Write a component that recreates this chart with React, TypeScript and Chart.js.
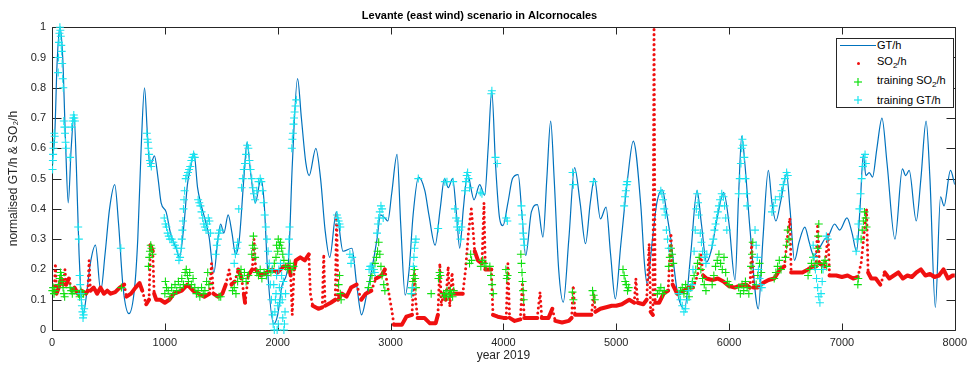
import React, { useEffect, useRef } from 'react';
import { Chart, registerables } from 'chart.js';

Chart.register(...registerables);

// ---------- data ----------
const gtHours = [0, 25, 45, 70, 95, 120, 144, 170, 195, 215, 240, 276, 300, 340, 385, 432, 470, 510, 556, 590, 630, 682, 732, 760, 790, 820, 845, 868, 908, 940, 967, 1011, 1050, 1100, 1130, 1170, 1200, 1230, 1258, 1290, 1317, 1360, 1391, 1435, 1470, 1494, 1523, 1561, 1595, 1626, 1660, 1700, 1729, 1760, 1802, 1852, 1880, 1910, 1964, 2000, 2040, 2094, 2130, 2176, 2210, 2250, 2279, 2338, 2380, 2420, 2461, 2520, 2579, 2658, 2700, 2743, 2790, 2834, 2880, 2911, 2950, 2976, 3010, 3058, 3090, 3130, 3165, 3200, 3248, 3304, 3340, 3395, 3440, 3478, 3512, 3550, 3585, 3613, 3645, 3682, 3740, 3790, 3834, 3865, 3897, 3930, 3966, 3996, 4040, 4081, 4131, 4165, 4198, 4248, 4301, 4351, 4385, 4419, 4450, 4490, 4531, 4580, 4631, 4680, 4728, 4770, 4807, 4860, 4910, 4950, 4992, 5040, 5101, 5151, 5218, 5250, 5274, 5321, 5360, 5408, 5450, 5483, 5542, 5605, 5660, 5716, 5755, 5800, 5840, 5900, 5952, 6000, 6053, 6085, 6112, 6140, 6186, 6259, 6300, 6348, 6380, 6415, 6460, 6509, 6540, 6580, 6620, 6671, 6710, 6750, 6800, 6847, 6880, 6935, 6980, 7045, 7090, 7130, 7160, 7190, 7212, 7242, 7271, 7310, 7355, 7400, 7470, 7536, 7565, 7596, 7659, 7700, 7746, 7780, 7828, 7874, 7905, 7962, 8000];
const gtValues = [0.55, 0.65, 0.88, 1.0, 0.9, 0.62, 0.42, 0.6, 0.71, 0.55, 0.25, 0.05, 0.1, 0.22, 0.28, 0.13, 0.25, 0.4, 0.48, 0.35, 0.14, 0.054, 0.14, 0.3, 0.6, 0.8, 0.65, 0.54, 0.575, 0.5, 0.42, 0.39, 0.32, 0.27, 0.24, 0.35, 0.48, 0.54, 0.585, 0.47, 0.42, 0.36, 0.31, 0.19, 0.3, 0.35, 0.32, 0.38, 0.32, 0.25, 0.3, 0.5, 0.62, 0.52, 0.42, 0.5, 0.42, 0.2, 0.02, 0.05, 0.15, 0.22, 0.55, 0.83, 0.7, 0.55, 0.51, 0.6, 0.5, 0.33, 0.24, 0.39, 0.26, 0.27, 0.15, 0.05, 0.12, 0.2, 0.3, 0.38, 0.37, 0.36, 0.45, 0.58, 0.35, 0.115, 0.2, 0.38, 0.505, 0.46, 0.38, 0.28, 0.4, 0.5, 0.47, 0.5, 0.38, 0.27, 0.4, 0.515, 0.43, 0.48, 0.445, 0.6, 0.79, 0.55, 0.37, 0.345, 0.42, 0.5, 0.513, 0.38, 0.246, 0.39, 0.414, 0.307, 0.5, 0.69, 0.5, 0.2, 0.092, 0.3, 0.536, 0.42, 0.285, 0.42, 0.5, 0.367, 0.406, 0.25, 0.103, 0.28, 0.5, 0.624, 0.41, 0.22, 0.152, 0.3, 0.42, 0.463, 0.38, 0.3, 0.125, 0.07, 0.25, 0.46, 0.35, 0.224, 0.26, 0.38, 0.455, 0.35, 0.165, 0.45, 0.64, 0.55, 0.33, 0.07, 0.3, 0.527, 0.42, 0.36, 0.43, 0.516, 0.4, 0.23, 0.29, 0.34, 0.29, 0.246, 0.27, 0.3, 0.31, 0.35, 0.33, 0.37, 0.32, 0.26, 0.4, 0.58, 0.51, 0.52, 0.505, 0.6, 0.7, 0.55, 0.3, 0.532, 0.51, 0.527, 0.36, 0.5, 0.69, 0.5, 0.075, 0.44, 0.41, 0.527, 0.48];

const so2Hours = [0, 20, 30, 40, 60, 80, 100, 115, 125, 150, 175, 200, 230, 260, 300, 318, 329, 340, 370, 400, 430, 460, 490, 520, 560, 600, 640, 660, 700, 740, 776, 800, 835, 860, 872, 893, 905, 924, 960, 1000, 1040, 1080, 1150, 1200, 1250, 1300, 1350, 1395, 1414, 1430, 1470, 1510, 1540, 1570, 1590, 1620, 1650, 1680, 1700, 1711, 1740, 1775, 1790, 1805, 1850, 1900, 1950, 2000, 2050, 2100, 2115, 2129, 2145, 2160, 2200, 2240, 2276, 2290, 2310, 2360, 2395, 2408, 2420, 2470, 2510, 2522, 2535, 2570, 2610, 2650, 2700, 2740, 2780, 2830, 2870, 2920, 2950, 2981, 3011, 3030, 3100, 3140, 3190, 3210, 3222, 3240, 3300, 3349, 3400, 3420, 3437, 3450, 3470, 3490, 3511, 3525, 3545, 3560, 3600, 3640, 3665, 3690, 3716, 3746, 3775, 3810, 3828, 3840, 3863, 3893, 3908, 3950, 4000, 4025, 4040, 4055, 4100, 4150, 4169, 4185, 4250, 4300, 4325, 4340, 4400, 4434, 4460, 4520, 4580, 4605, 4619, 4635, 4700, 4780, 4801, 4815, 4860, 4920, 4960, 5000, 5050, 5115, 5160, 5174, 5190, 5240, 5270, 5292, 5305, 5325, 5335, 5345, 5380, 5420, 5460, 5485, 5500, 5540, 5600, 5640, 5680, 5720, 5750, 5770, 5800, 5850, 5900, 5950, 6000, 6050, 6100, 6150, 6185, 6200, 6215, 6250, 6300, 6350, 6400, 6450, 6490, 6524, 6539, 6550, 6600, 6650, 6700, 6740, 6770, 6785, 6800, 6850, 6877, 6890, 6950, 7000, 7050, 7100, 7140, 7170, 7218, 7232, 7260, 7300, 7340, 7380, 7420, 7460, 7500, 7540, 7580, 7620, 7660, 7700, 7740, 7780, 7820, 7860, 7900, 7940, 7980, 8000];
const so2Values = [0.13, 0.13, 0.22, 0.12, 0.14, 0.17, 0.15, 0.2, 0.15, 0.17, 0.13, 0.14, 0.12, 0.13, 0.12, 0.13, 0.23, 0.13, 0.14, 0.12, 0.14, 0.12, 0.13, 0.12, 0.125, 0.14, 0.15, 0.11, 0.12, 0.14, 0.155, 0.13, 0.085, 0.1, 0.28, 0.26, 0.12, 0.1, 0.1, 0.09, 0.1, 0.12, 0.13, 0.15, 0.13, 0.12, 0.11, 0.12, 0.22, 0.12, 0.11, 0.12, 0.15, 0.2, 0.15, 0.16, 0.2, 0.17, 0.12, 0.09, 0.18, 0.2, 0.3, 0.2, 0.18, 0.19, 0.2, 0.19, 0.21, 0.21, 0.18, 0.05, 0.2, 0.23, 0.24, 0.23, 0.25, 0.12, 0.08, 0.07, 0.075, 0.25, 0.08, 0.09, 0.1, 0.38, 0.1, 0.12, 0.11, 0.14, 0.15, 0.1, 0.12, 0.13, 0.17, 0.18, 0.2, 0.13, 0.066, 0.017, 0.017, 0.044, 0.05, 0.2, 0.1, 0.04, 0.04, 0.022, 0.022, 0.05, 0.22, 0.08, 0.12, 0.1, 0.21, 0.077, 0.19, 0.12, 0.12, 0.12, 0.2, 0.32, 0.4, 0.26, 0.23, 0.22, 0.42, 0.2, 0.2, 0.2, 0.05, 0.044, 0.04, 0.04, 0.22, 0.04, 0.03, 0.035, 0.158, 0.04, 0.04, 0.04, 0.125, 0.04, 0.04, 0.07, 0.03, 0.025, 0.03, 0.04, 0.147, 0.05, 0.05, 0.05, 0.12, 0.06, 0.07, 0.076, 0.08, 0.08, 0.085, 0.1, 0.09, 0.17, 0.09, 0.085, 0.1, 0.285, 0.06, 0.05, 1.0, 0.09, 0.09, 0.12, 0.13, 0.32, 0.15, 0.12, 0.13, 0.14, 0.14, 0.18, 0.25, 0.18, 0.17, 0.165, 0.17, 0.16, 0.145, 0.14, 0.147, 0.15, 0.14, 0.29, 0.14, 0.14, 0.155, 0.165, 0.17, 0.2, 0.21, 0.33, 0.37, 0.19, 0.19, 0.19, 0.2, 0.21, 0.21, 0.35, 0.22, 0.21, 0.32, 0.18, 0.18, 0.175, 0.18, 0.17, 0.175, 0.22, 0.4, 0.19, 0.17, 0.17, 0.15, 0.19, 0.17, 0.18, 0.19, 0.17, 0.18, 0.175, 0.19, 0.2, 0.18, 0.185, 0.175, 0.18, 0.2, 0.17, 0.18, 0.18];

const trainGtHours = [5, 8, 10, 13, 16, 20, 24, 55, 58, 62, 66, 70, 74, 78, 82, 86, 90, 95, 100, 105, 110, 115, 120, 125, 160, 175, 182, 188, 193, 198, 203, 232, 238, 245, 250, 255, 260, 265, 270, 275, 280, 285, 610, 840, 845, 850, 855, 860, 868, 875, 880, 995, 1005, 1015, 1025, 1035, 1045, 1060, 1075, 1090, 1105, 1115, 1125, 1135, 1145, 1150, 1155, 1160, 1165, 1170, 1175, 1185, 1195, 1205, 1215, 1225, 1235, 1245, 1255, 1265, 1295, 1305, 1315, 1325, 1335, 1345, 1355, 1365, 1375, 1385, 1395, 1405, 1450, 1460, 1470, 1480, 1490, 1615, 1625, 1635, 1645, 1655, 1680, 1690, 1700, 1710, 1720, 1730, 1740, 1750, 1760, 1770, 1780, 1790, 1800, 1815, 1830, 1845, 1855, 1865, 1875, 1885, 1895, 1905, 1915, 1925, 1935, 1945, 1950, 1955, 1960, 1965, 1970, 1975, 1980, 1985, 1990, 1995, 2000, 2005, 2010, 2015, 2020, 2025, 2030, 2035, 2040, 2045, 2050, 2055, 2060, 2065, 2070, 2095, 2100, 2105, 2125, 2130, 2135, 2140, 2145, 2150, 2158, 2165, 2525, 2532, 2540, 2548, 2555, 2640, 2650, 2660, 2810, 2820, 2830, 2845, 2860, 2880, 2888, 2895, 2905, 2915, 2925, 2935, 3187, 3195, 3202, 3207, 3212, 3218, 3225, 3246, 3422, 3481, 3500, 3555, 3570, 3580, 3590, 3600, 3610, 3620, 3628, 3660, 3668, 3675, 3683, 3690, 3700, 3795, 3810, 3893, 3898, 3930, 3945, 4025, 4035, 4160, 4165, 4170, 4175, 4180, 4185, 4613, 4620, 4798, 5070, 5078, 5085, 5092, 5098, 5395, 5405, 5415, 5425, 5435, 5445, 5455, 5465, 5555, 5570, 5585, 5600, 5615, 5630, 5642, 5671, 5680, 5690, 5700, 5710, 5718, 5725, 5730, 5745, 5755, 5765, 5780, 5795, 5803, 5850, 5860, 5870, 5880, 5890, 5900, 5910, 5920, 5935, 5950, 5960, 5970, 5980, 6085, 6095, 6105, 6112, 6118, 6125, 6135, 6145, 6155, 6160, 6230, 6240, 6250, 6260, 6270, 6280, 6290, 6380, 6395, 6410, 6450, 6465, 6480, 6495, 6510, 6520, 6745, 6755, 6765, 6775, 6785, 6795, 6805, 6815, 6825, 6833, 6862, 6875, 7126, 7135, 7145, 7155, 7165, 7175, 7185, 7195, 7205, 7212];
const trainGtValues = [0.53, 0.56, 0.58, 0.6, 0.62, 0.65, 0.64, 0.85, 0.9, 0.95, 0.98, 1.0, 0.99, 0.97, 0.94, 0.92, 0.88, 0.83, 0.8, 0.69, 0.67, 0.65, 0.62, 0.6, 0.57, 0.67, 0.69, 0.7, 0.71, 0.7, 0.69, 0.34, 0.3, 0.18, 0.15, 0.12, 0.1, 0.08, 0.06, 0.04, 0.05, 0.07, 0.27, 0.65, 0.63, 0.62, 0.6, 0.58, 0.56, 0.55, 0.54, 0.37, 0.35, 0.34, 0.32, 0.31, 0.3, 0.3, 0.29, 0.28, 0.27, 0.25, 0.23, 0.24, 0.27, 0.3, 0.33, 0.36, 0.4, 0.43, 0.46, 0.5, 0.51, 0.52, 0.53, 0.54, 0.56, 0.57, 0.58, 0.57, 0.43, 0.42, 0.41, 0.39, 0.37, 0.35, 0.34, 0.33, 0.35, 0.37, 0.36, 0.32, 0.25, 0.28, 0.3, 0.32, 0.33, 0.22, 0.25, 0.27, 0.29, 0.4, 0.47, 0.5, 0.53, 0.55, 0.58, 0.61, 0.6, 0.56, 0.53, 0.5, 0.47, 0.45, 0.43, 0.46, 0.49, 0.5, 0.49, 0.46, 0.42, 0.38, 0.34, 0.3, 0.26, 0.22, 0.15, 0.1, 0.2, 0.05, 0.02, 0.15, 0.0, 0.06, 0.1, 0.12, 0.18, 0.0, 0.08, 0.02, 0.2, 0.14, 0.09, 0.22, 0.12, 0.18, 0.1, 0.04, 0.16, 0.0, 0.02, 0.06, 0.12, 0.25, 0.3, 0.34, 0.6, 0.63, 0.65, 0.68, 0.7, 0.72, 0.74, 0.76, 0.38, 0.37, 0.36, 0.35, 0.34, 0.25, 0.22, 0.24, 0.2, 0.21, 0.21, 0.2, 0.19, 0.32, 0.35, 0.37, 0.39, 0.41, 0.4, 0.37, 0.12, 0.14, 0.21, 0.24, 0.27, 0.29, 0.3, 0.5, 0.335, 0.49, 0.49, 0.49, 0.4, 0.37, 0.34, 0.36, 0.33, 0.3, 0.34, 0.46, 0.49, 0.51, 0.52, 0.5, 0.47, 0.455, 0.45, 0.78, 0.79, 0.57, 0.55, 0.37, 0.36, 0.41, 0.38, 0.35, 0.32, 0.3, 0.28, 0.52, 0.48, 0.49, 0.41, 0.44, 0.46, 0.48, 0.49, 0.46, 0.45, 0.43, 0.4, 0.38, 0.33, 0.3, 0.27, 0.12, 0.1, 0.08, 0.06, 0.07, 0.1, 0.13, 0.15, 0.2, 0.26, 0.33, 0.4, 0.45, 0.42, 0.38, 0.32, 0.29, 0.26, 0.24, 0.22, 0.25, 0.28, 0.3, 0.33, 0.35, 0.37, 0.39, 0.41, 0.43, 0.45, 0.44, 0.41, 0.37, 0.33, 0.45, 0.5, 0.55, 0.6, 0.63, 0.61, 0.57, 0.5, 0.45, 0.41, 0.33, 0.28, 0.24, 0.2, 0.17, 0.15, 0.14, 0.39, 0.41, 0.43, 0.44, 0.46, 0.48, 0.5, 0.52, 0.51, 0.28, 0.24, 0.2, 0.17, 0.14, 0.11, 0.09, 0.12, 0.16, 0.2, 0.31, 0.3, 0.26, 0.3, 0.35, 0.4, 0.45, 0.5, 0.54, 0.57, 0.58, 0.55];

const trainSo2Hours = [3, 10, 18, 25, 60, 68, 75, 82, 90, 98, 105, 112, 160, 170, 180, 195, 235, 245, 255, 265, 280, 615, 855, 862, 868, 875, 882, 890, 1000, 1005, 1015, 1030, 1045, 1060, 1075, 1090, 1105, 1120, 1135, 1150, 1165, 1180, 1190, 1200, 1210, 1220, 1235, 1250, 1265, 1280, 1295, 1310, 1325, 1340, 1355, 1370, 1380, 1390, 1480, 1495, 1600, 1615, 1630, 1645, 1660, 1675, 1690, 1705, 1720, 1740, 1770, 1778, 1785, 1792, 1800, 1815, 1830, 1845, 1860, 1880, 1900, 1920, 1940, 1955, 1970, 1985, 1990, 2000, 2005, 2015, 2025, 2035, 2045, 2055, 2070, 2090, 2110, 2125, 2140, 2540, 2548, 2555, 2562, 2805, 2820, 2835, 2850, 2862, 2875, 2885, 2895, 2905, 2915, 2925, 2940, 2950, 3185, 3192, 3198, 3205, 3212, 3218, 3225, 3360, 3425, 3435, 3442, 3470, 3480, 3490, 3500, 3510, 3520, 3530, 3540, 3550, 3560, 3700, 3710, 3718, 3800, 3815, 3830, 3845, 3880, 3890, 3900, 3910, 4022, 4030, 4037, 4155, 4160, 4165, 4170, 4175, 4180, 4612, 4620, 4790, 4800, 4810, 5060, 5070, 5080, 5090, 5100, 5110, 5365, 5380, 5395, 5410, 5425, 5465, 5475, 5485, 5495, 5505, 5555, 5570, 5585, 5600, 5615, 5630, 5645, 5660, 5675, 5690, 5705, 5720, 5735, 5750, 5765, 5780, 5795, 5850, 5865, 5880, 5895, 5910, 5925, 5940, 5955, 5970, 5985, 6000, 6085, 6100, 6115, 6130, 6145, 6160, 6175, 6195, 6203, 6210, 6240, 6255, 6270, 6285, 6400, 6415, 6430, 6445, 6460, 6500, 6510, 6520, 6530, 6700, 6715, 6730, 6745, 6760, 6780, 6785, 6790, 6795, 6820, 6835, 6850, 6865, 7141, 7145, 7170, 7180, 7190, 7200, 7210, 7218];
const trainSo2Values = [0.13, 0.14, 0.12, 0.13, 0.15, 0.17, 0.19, 0.18, 0.16, 0.14, 0.12, 0.11, 0.14, 0.13, 0.12, 0.13, 0.12, 0.11, 0.13, 0.12, 0.12, 0.14, 0.21, 0.24, 0.26, 0.28, 0.27, 0.25, 0.12, 0.16, 0.14, 0.13, 0.11, 0.14, 0.12, 0.15, 0.13, 0.16, 0.14, 0.17, 0.15, 0.19, 0.2, 0.18, 0.16, 0.19, 0.15, 0.17, 0.14, 0.12, 0.13, 0.11, 0.14, 0.12, 0.13, 0.16, 0.19, 0.15, 0.11, 0.11, 0.13, 0.14, 0.12, 0.16, 0.18, 0.2, 0.17, 0.19, 0.16, 0.18, 0.25, 0.28, 0.31, 0.27, 0.24, 0.19, 0.18, 0.2, 0.17, 0.19, 0.18, 0.2, 0.19, 0.2, 0.22, 0.24, 0.28, 0.26, 0.3, 0.28, 0.29, 0.27, 0.25, 0.23, 0.21, 0.2, 0.22, 0.2, 0.21, 0.15, 0.18, 0.12, 0.1, 0.14, 0.16, 0.18, 0.2, 0.22, 0.24, 0.26, 0.29, 0.25, 0.21, 0.18, 0.15, 0.13, 0.12, 0.14, 0.16, 0.18, 0.2, 0.17, 0.14, 0.12, 0.17, 0.19, 0.18, 0.12, 0.11, 0.12, 0.13, 0.11, 0.12, 0.13, 0.12, 0.11, 0.13, 0.22, 0.25, 0.23, 0.21, 0.23, 0.22, 0.21, 0.21, 0.18, 0.15, 0.12, 0.2, 0.17, 0.18, 0.25, 0.22, 0.19, 0.16, 0.13, 0.1, 0.125, 0.1, 0.13, 0.115, 0.1, 0.2, 0.18, 0.16, 0.15, 0.13, 0.14, 0.12, 0.13, 0.14, 0.12, 0.13, 0.21, 0.24, 0.27, 0.25, 0.22, 0.12, 0.13, 0.14, 0.12, 0.15, 0.13, 0.11, 0.14, 0.16, 0.18, 0.2, 0.22, 0.24, 0.2, 0.17, 0.15, 0.13, 0.15, 0.18, 0.21, 0.23, 0.25, 0.22, 0.2, 0.24, 0.19, 0.16, 0.15, 0.14, 0.12, 0.15, 0.13, 0.16, 0.14, 0.12, 0.21, 0.25, 0.29, 0.15, 0.18, 0.22, 0.19, 0.17, 0.19, 0.21, 0.23, 0.2, 0.24, 0.28, 0.33, 0.3, 0.18, 0.2, 0.22, 0.24, 0.21, 0.22, 0.27, 0.31, 0.35, 0.2, 0.22, 0.23, 0.21, 0.15, 0.17, 0.3, 0.33, 0.36, 0.39, 0.37, 0.34];

const xTicks = [0, 1000, 2000, 3000, 4000, 5000, 6000, 7000, 8000];
const yTicks = [0, 0.1, 0.2, 0.3, 0.4, 0.5, 0.6, 0.7, 0.8, 0.9, 1];

const TITLE = 'Levante (east wind) scenario in Alcornocales';
const X_LABEL = 'year 2019';
const Y_LABEL = 'normalised GT/h & SO\u2082/h';

// ---------- styles ----------
const FONT = '"Liberation Sans", Arial, Helvetica, sans-serif';
const AXIS = '#262626';
const C_GT = '#0072BD';
const C_SO2 = '#f01010';
const C_TSO2 = '#10e010';
const C_TGT = '#18e4f0';

const zip = (xs: number[], ys: number[]) => xs.map((x, i) => ({ x, y: ys[i] }));

const boxPlugin = {
  id: 'matlabBox',
  beforeDatasetsDraw(chart: any) {
    const { ctx, chartArea, scales } = chart;
    const l = Math.round(chartArea.left) + 0.5;
    const r = Math.round(chartArea.right) + 0.5;
    const t = Math.round(chartArea.top) + 0.5;
    const b = Math.round(chartArea.bottom) + 0.5;
    ctx.save();
    ctx.strokeStyle = AXIS;
    ctx.lineWidth = 1;
    ctx.beginPath();
    ctx.rect(l, t, r - l, b - t);
    xTicks.forEach((v) => {
      const px = Math.round(scales.x.getPixelForValue(v)) + 0.5;
      ctx.moveTo(px, b);
      ctx.lineTo(px, b - 7);
      ctx.moveTo(px, t);
      ctx.lineTo(px, t + 7);
    });
    yTicks.forEach((v) => {
      const py = Math.round(scales.y.getPixelForValue(v)) + 0.5;
      ctx.moveTo(l, py);
      ctx.lineTo(l + 9, py);
      ctx.moveTo(r, py);
      ctx.lineTo(r - 9, py);
    });
    ctx.stroke();
    ctx.restore();
  },
};

const steep = (c: any) => {
  const dx = Math.abs(c.p1.x - c.p0.x);
  const dy = Math.abs(c.p1.y - c.p0.y);
  return dy > 10 && dy > 2.5 * dx;
};

function Legend() {
  const row = (top: number): React.CSSProperties => ({
    position: 'absolute',
    left: 40,
    top,
    fontFamily: FONT,
    fontSize: 11,
    color: '#000',
    lineHeight: '12px',
    whiteSpace: 'nowrap',
  });
  const sub: React.CSSProperties = { fontSize: 8, position: 'relative', top: 3 };
  const cross = (color: string, cy: number) => (
    <svg style={{ position: 'absolute', left: 16, top: cy - 5 }} width={10} height={10}>
      <line x1={1} y1={5} x2={9} y2={5} stroke={color} strokeWidth={1.2} />
      <line x1={5} y1={1} x2={5} y2={9} stroke={color} strokeWidth={1.2} />
    </svg>
  );
  return (
    <div
      style={{
        position: 'absolute',
        left: 836,
        top: 38,
        width: 118,
        height: 70,
        boxSizing: 'border-box',
        border: `1px solid ${AXIS}`,
        background: '#fff',
      }}
    >
      <div style={{ position: 'absolute', left: 3, top: 6, width: 36, height: 0, borderTop: `1.2px solid ${C_GT}` }} />
      <div style={row(0)}>GT/h</div>
      <div style={{ position: 'absolute', left: 20, top: 23, width: 3, height: 3, borderRadius: 2, background: C_SO2 }} />
      <div style={row(16)}>
        SO<span style={sub}>2</span>/h
      </div>
      {cross(C_TSO2, 43)}
      <div style={row(35)}>
        training SO<span style={sub}>2</span>/h
      </div>
      {cross(C_TGT, 61)}
      <div style={row(55)}>training GT/h</div>
    </div>
  );
}

export default function App() {
  const ref = useRef<HTMLCanvasElement | null>(null);
  useEffect(() => {
    if (!ref.current) return;
    const tickFont = { family: FONT, size: 11 };
    const chart = new Chart(ref.current, {
      type: 'scatter',
      data: {
        datasets: [
          {
            type: 'line',
            label: 'GT/h',
            data: zip(gtHours, gtValues),
            borderColor: C_GT,
            borderWidth: 1.2,
            pointRadius: 0,
            cubicInterpolationMode: 'monotone',
            fill: false,
            order: 4,
          } as any,
          {
            type: 'line',
            label: 'SO\u2082/h',
            data: zip(so2Hours, so2Values),
            borderColor: C_SO2,
            borderWidth: 4,
            borderCapStyle: 'round',
            borderJoinStyle: 'round',
            pointRadius: 0,
            tension: 0,
            fill: false,
            order: 3,
            segment: {
              borderDash: (c: any) => (steep(c) ? [0, 5] : undefined),
              borderWidth: (c: any) => (steep(c) ? 3 : undefined),
            },
          } as any,
          {
            label: 'training SO\u2082/h',
            data: zip(trainSo2Hours, trainSo2Values),
            pointStyle: 'cross',
            pointRadius: 4,
            pointBorderWidth: 1.1,
            borderColor: C_TSO2,
            backgroundColor: C_TSO2,
            clip: 6,
            order: 2,
          } as any,
          {
            label: 'training GT/h',
            data: zip(trainGtHours, trainGtValues),
            pointStyle: 'cross',
            pointRadius: 4,
            pointBorderWidth: 1.1,
            borderColor: C_TGT,
            backgroundColor: C_TGT,
            clip: 6,
            order: 1,
          } as any,
        ],
      },
      options: {
        responsive: false,
        animation: false,
        events: [],
        layout: { padding: { left: 0, right: 14, top: 0, bottom: 0 } },
        plugins: {
          legend: { display: false },
          tooltip: { enabled: false },
          title: {
            display: true,
            text: TITLE,
            color: '#000',
            font: { family: FONT, size: 11, weight: 'bold' },
            padding: { top: 9, bottom: 5 },
          },
        },
        scales: {
          x: {
            type: 'linear',
            min: 0,
            max: 8000,
            afterFit: (s: any) => {
              s.height = 39;
            },
            afterBuildTicks: (s: any) => {
              s.ticks = xTicks.map((v) => ({ value: v }));
            },
            ticks: {
              color: AXIS,
              font: tickFont,
              padding: 6,
              maxRotation: 0,
              autoSkip: false,
              callback: (v: any) => String(v),
            },
            grid: { display: false, drawTicks: false },
            border: { display: false },
            title: {
              display: true,
              text: X_LABEL,
              color: AXIS,
              font: { family: FONT, size: 12 },
              padding: { top: 0, bottom: 6 },
            },
          },
          y: {
            type: 'linear',
            min: 0,
            max: 1,
            afterFit: (s: any) => {
              s.width = 52;
            },
            afterBuildTicks: (s: any) => {
              s.ticks = yTicks.map((v) => ({ value: v }));
            },
            ticks: {
              color: AXIS,
              font: tickFont,
              padding: 6,
              autoSkip: false,
              callback: (v: any) => String(Math.round(Number(v) * 10) / 10),
            },
            grid: { display: false, drawTicks: false },
            border: { display: false },
            title: {
              display: true,
              text: Y_LABEL,
              color: AXIS,
              font: { family: FONT, size: 12 },
              padding: { top: 6, bottom: 0 },
            },
          },
        },
      } as any,
      plugins: [boxPlugin],
    });
    return () => chart.destroy();
  }, []);

  return (
    <div style={{ position: 'absolute', left: 0, top: 0, width: 973, height: 369, background: '#fff', overflow: 'hidden' }}>
      <canvas ref={ref} width={973} height={369} style={{ display: 'block' }} />
      <Legend />
    </div>
  );
}
